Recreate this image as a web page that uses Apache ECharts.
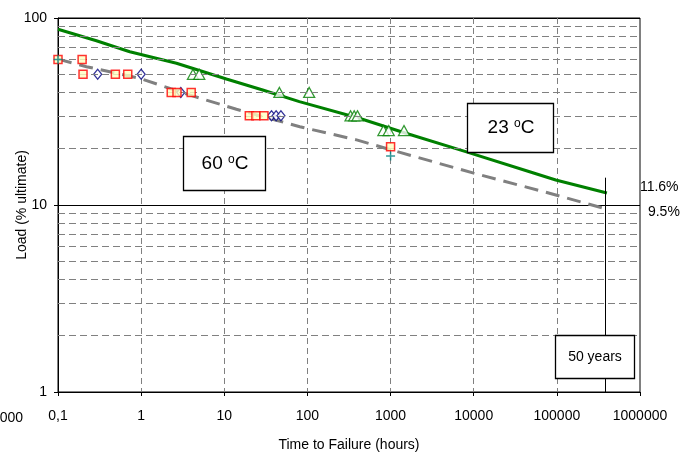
<!DOCTYPE html>
<html><head><meta charset="utf-8">
<script src="https://cdn.jsdelivr.net/npm/echarts@6/dist/echarts.min.js"></script>
<style>html,body{margin:0;padding:0;background:#fff}#c{width:699px;height:459px}</style>
</head><body><div id="c"></div>
<script>
const xTickLabels = ['0,1','1','10','100','1000','10000','100000','1000000'];
const minorGridValues = [2,3,4,5,6,7,8,9,20,30,40,50,60,70,80,90];
const line23 = [[0.1,87],[0.29,75.6],[0.73,66],[2.66,57.3],[10.6,47.2],[29,41.2],[80,35.7],[420,29.1],[1530,24.2],[8000,19.3],[46000,15.1],[97000,13.6],[400000,11.6]];
const line60 = [[0.1,60.3],[0.22,54.9],[0.96,47.6],[3.8,38.8],[14,32.5],[81,26.2],[390,22.3],[1200,19.3],[10000,14.8],[64000,11.9],[400000,9.5]];
const squares = [[0.1,60],[0.195,60],[0.2,50],[0.49,50],[0.69,50],[2.3,40],[2.7,40],[4,40],[20,30],[24,30],[30,30],[1000,20.5]];
const diamonds = [[0.3,50],[1,50],[3,40],[37,30],[42,30],[48,30]];
const triangles = [[4.2,50],[5,50],[46,40],[105,40],[330,30],[365,30],[400,30],[820,25],[950,25],[1450,25]];
const crosses = [[0.1,60],[1000,18.3]];
const fiftyYearsHours = 378000;
const end23 = '11.6%', end60 = '9.5%';

const FONT = 'Liberation Sans';
const chart = echarts.init(document.getElementById('c'), null, {renderer:'canvas'});
const boxText = (main) => ({
  text: '{a|' + main + ' }{s|o}{a|C}',
  rich: { a:{fontSize:19, lineHeight:20, fontFamily:FONT, fill:'#000', color:'#000'},
          s:{fontSize:12, lineHeight:10, fontFamily:FONT, verticalAlign:'top', fill:'#000', color:'#000'} }
});
chart.setOption({
  animation:false,
  textStyle:{fontFamily:FONT},
  grid:{left:58, right:59, top:18, bottom:67, show:true, borderColor:'#000', borderWidth:1, backgroundColor:'#fff', outerBoundsMode:'none', containLabel:false},
  xAxis:{type:'log', logBase:10, min:0.1, max:1000000,
    name:'Time to Failure (hours)', nameLocation:'middle', nameGap:46, nameMoveOverlap:false,
    nameTextStyle:{fontSize:14, color:'#000', fontFamily:FONT},
    axisLine:{lineStyle:{color:'#000', width:1}},
    axisTick:{show:true, length:4, lineStyle:{color:'#000'}},
    axisLabel:{fontSize:14, color:'#000', margin:17, fontFamily:FONT,
      formatter:(v)=>xTickLabels[Math.round(Math.log10(v))+1]},
    splitLine:{show:true, lineStyle:{color:'#808080', type:[6,4], width:1}},
    minorTick:{show:false}, minorSplitLine:{show:false}},
  yAxis:{type:'log', logBase:10, min:1, max:100,
    name:'Load (% ultimate)', nameLocation:'middle', nameGap:29, nameMoveOverlap:false,
    nameTextStyle:{fontSize:14, color:'#000', fontFamily:FONT},
    axisLine:{show:true, lineStyle:{color:'#000', width:1}},
    axisTick:{show:true, length:4, lineStyle:{color:'#000'}},
    axisLabel:{fontSize:14, color:'#000', margin:11, fontFamily:FONT},
    splitLine:{show:true, lineStyle:{color:'#000', width:1}}},
  series:[
    {type:'line', name:'grid', data:[], silent:true,
      markLine:{silent:true, symbol:['none','none'], label:{show:false},
        lineStyle:{color:'#808080', type:[7,4], width:1},
        data: minorGridValues.map(v=>({yAxis:v}))}, z:1},
    {type:'line', name:'23C', data:line23, showSymbol:false, symbol:'none',
      lineStyle:{color:'#008000', width:3}, z:3,
      endLabel:{show:true, formatter:end23, distance:33, offset:[0,-6], fontSize:14, color:'#000', fontFamily:FONT}},
    {type:'line', name:'60C', data:line60, showSymbol:false, symbol:'none',
      lineStyle:{color:'#808080', width:3, type:[14,8]}, z:3,
      endLabel:{show:true, formatter:end60, distance:41, offset:[0,3], fontSize:14, color:'#000', fontFamily:FONT},
      markLine:{silent:true, symbol:['none','none'], label:{show:false},
        lineStyle:{color:'#000', type:'solid', width:1},
        data:[[{coord:[fiftyYearsHours,14]},{coord:[fiftyYearsHours,1]}]]}},
    {type:'scatter', data:triangles, symbol:'triangle', symbolSize:[11,10],
      itemStyle:{color:'#fff', borderColor:'#008000', borderWidth:1.3}, z:4},
    {type:'scatter', data:diamonds, symbol:'diamond', symbolSize:[8,10],
      itemStyle:{color:'#fff', borderColor:'#000080', borderWidth:1.3}, z:4},
    {type:'scatter', data:squares, symbol:'rect', symbolSize:8,
      itemStyle:{color:'#FFFFC0', borderColor:'#FF0000', borderWidth:1.5}, z:5},
    {type:'scatter', data:crosses, symbol:'path://M5,0L5,10M0,5L10,5', symbolSize:9,
      itemStyle:{color:'none', borderColor:'#008080', borderWidth:1.5}, z:6}
  ],
  graphic:[
    {type:'rect', z:100, shape:{x:183.5, y:136.5, width:82, height:54}, style:{fill:'#fff', stroke:'#000', lineWidth:1.3}},
    {type:'text', z:101, x:225, y:164, style:Object.assign({align:'center', verticalAlign:'middle'}, boxText('60'))},
    {type:'rect', z:100, shape:{x:467.5, y:103.5, width:86, height:49}, style:{fill:'#fff', stroke:'#000', lineWidth:1.3}},
    {type:'text', z:101, x:511, y:128, style:Object.assign({align:'center', verticalAlign:'middle'}, boxText('23'))},
    {type:'rect', z:100, shape:{x:555.5, y:335.5, width:79, height:43}, style:{fill:'#fff', stroke:'#000', lineWidth:1.3}},
    {type:'text', z:101, x:595, y:357, style:{text:'50 years', align:'center', verticalAlign:'middle', fontSize:14, fontFamily:FONT, fill:'#000'}},
    {type:'text', z:101, x:23, y:418, style:{text:'000', align:'right', verticalAlign:'middle', fontSize:14, fontFamily:FONT, fill:'#000'}}
  ]
});
</script></body></html>
